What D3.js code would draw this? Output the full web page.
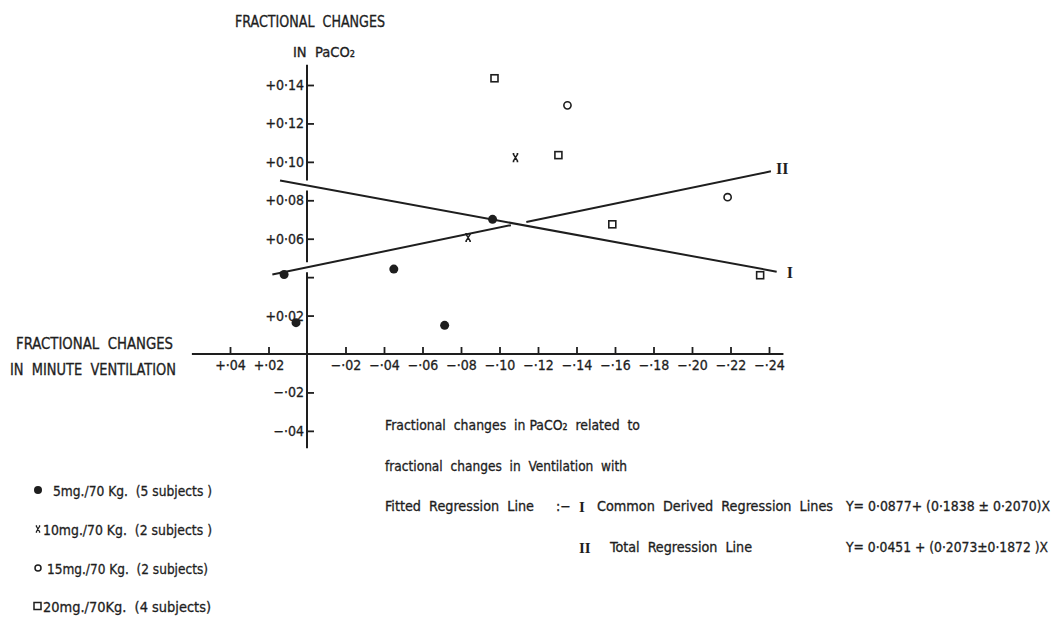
<!DOCTYPE html>
<html>
<head>
<meta charset="utf-8">
<script src="https://cdn.jsdelivr.net/npm/d3@7/dist/d3.min.js"></script>
<style>
  html, body { margin: 0; padding: 0; background: #ffffff; }
  svg { display: block; }
  text { font-family: "DejaVu Sans Condensed", "Liberation Sans Narrow", sans-serif; fill: #1e1e1e; white-space: pre; stroke: #1e1e1e; stroke-width: 0.3px; }
  .roman { font-family: "Liberation Serif", "DejaVu Serif", serif; font-weight: bold; stroke-width: 0; }
</style>
</head>
<body>
<svg id="chart" width="1059" height="617"></svg>
<script>
// Fractional change in minute ventilation (x) against fractional change in PaCO2 (y)
const dose5  = [[0.0119, 0.0414], [0.0057, 0.0163], [-0.0451, 0.0442], [-0.0715, 0.0149], [-0.0964, 0.0701]];
const dose10 = [[-0.1083, 0.1022], [-0.0837, 0.0606]];
const dose15 = [[-0.1353, 0.1294], [-0.2185, 0.0816]];
const dose20 = [[-0.0974, 0.1435], [-0.1306, 0.1035], [-0.1586, 0.0675], [-0.2354, 0.0410]];

// Regression lines: I = common derived, II = total.
// Slope of II is stated against the fall in ventilation, hence its sign here.
const regNames = ["I", "II"];
const regIntercepts = [0.0877, 0.0451];
const regSlopes = [0.1838, -0.2073];
const regSpans = [[0.014, -0.244], [0.018, -0.241]];

const xTicks = [0.04, 0.02, -0.02, -0.04, -0.06, -0.08, -0.10, -0.12, -0.14, -0.16, -0.18, -0.20, -0.22, -0.24];
const xTickLabels = ["+·04", "+·02", "−·02", "−·04", "−·06", "−·08", "−·10", "−·12", "−·14", "−·16", "−·18", "−·20", "−·22", "−·24"];
const yTicks = [0.14, 0.12, 0.10, 0.08, 0.06, 0.04, 0.02, -0.02, -0.04];
const yTickLabels = ["+0·14", "+0·12", "+0·10", "+0·08", "+0·06", "", "+0·02", "−·02", "−·04"];
const xExtent = [0.0598, -0.2475];
const yExtent = [0.1505, -0.049];

const legendLabels = ["5mg./70 Kg.  (5 subjects )", "10mg./70 Kg.  (2 subjects )", "15mg./70 Kg.  (2 subjects)", "20mg./70Kg.  (4 subjects)"];

const ink = "#1e1e1e";
const svg = d3.select("#chart");

const x = d3.scaleLinear().domain([0, -0.24]).range([307, 769]);
const y = d3.scaleLinear().domain([0, 0.14]).range([354, 85]);

// ---- axes ----
const xAxis = d3.axisBottom(x)
  .tickValues(xTicks)
  .tickFormat((d, i) => xTickLabels[i])
  .tickSize(-7)
  .tickPadding(6);
const gx = svg.append("g").attr("transform", `translate(0,${y(0)})`).call(xAxis);
gx.select(".domain").remove();
gx.selectAll(".tick line").attr("stroke", ink).attr("stroke-width", 1.8);
gx.selectAll(".tick text").attr("font-size", 14).attr("fill", ink)
  .style("font-family", "'DejaVu Sans Condensed', 'Liberation Sans Narrow', sans-serif");

const yAxis = d3.axisLeft(y)
  .tickValues(yTicks)
  .tickFormat((d, i) => yTickLabels[i])
  .tickSize(-7)
  .tickPadding(3);
const gy = svg.append("g").attr("transform", `translate(${x(0)},0)`).call(yAxis);
gy.select(".domain").remove();
gy.selectAll(".tick line").attr("stroke", ink).attr("stroke-width", 1.8);
gy.selectAll(".tick text").attr("font-size", 14).attr("fill", ink)
  .style("font-family", "'DejaVu Sans Condensed', 'Liberation Sans Narrow', sans-serif");

// horizontal axis line
svg.append("line")
  .attr("x1", x(xExtent[0])).attr("x2", x(xExtent[1]))
  .attr("y1", y(0)).attr("y2", y(0))
  .attr("stroke", ink).attr("stroke-width", 2);

// vertical axis line, broken where the regression lines cross it
const crossings = regIntercepts.map(v => y(v)).sort((a, b) => a - b);
const ySegs = [];
let segStart = y(yExtent[0]);
crossings.forEach(c => { ySegs.push([segStart, c - 5]); segStart = c + 5; });
ySegs.push([segStart, y(yExtent[1])]);
svg.selectAll("line.yaxis").data(ySegs).join("line")
  .attr("class", "yaxis")
  .attr("x1", x(0)).attr("x2", x(0))
  .attr("y1", d => d[0]).attr("y2", d => d[1])
  .attr("stroke", ink).attr("stroke-width", 2);

// ---- regression lines ----
const regY = (i, v) => regIntercepts[i] + regSlopes[i] * v;
const xCross = (regIntercepts[0] - regIntercepts[1]) / (regSlopes[1] - regSlopes[0]);
const regSegments = [
  [[regSpans[0][0], regSpans[0][1]], 0],
  [[regSpans[1][0], xCross + 0.003], 1],
  [[xCross - 0.005, regSpans[1][1]], 1]
];
svg.selectAll("line.reg").data(regSegments).join("line")
  .attr("class", "reg")
  .attr("x1", d => x(d[0][0])).attr("y1", d => y(regY(d[1], d[0][0])))
  .attr("x2", d => x(d[0][1])).attr("y2", d => y(regY(d[1], d[0][1])))
  .attr("stroke", ink).attr("stroke-width", 2);

// line names at the right-hand ends
svg.append("text").attr("class", "roman")
  .attr("x", x(regSpans[0][1]) + 10).attr("y", y(regY(0, regSpans[0][1])) + 6)
  .attr("font-size", 16).text("I");
svg.append("text").attr("class", "roman")
  .attr("x", x(regSpans[1][1]) + 5).attr("y", y(regY(1, regSpans[1][1])) + 3)
  .attr("font-size", 16).text("II");

// ---- markers ----
const crossPath = s => `M${-s * 0.6},${-s} L${s * 0.6},${s} M${s * 0.6},${-s} L${-s * 0.6},${s}` +
  ` M${-s * 0.75},${-s} H${-s * 0.3} M${s * 0.3},${-s} H${s * 0.75}` +
  ` M${-s * 0.75},${s} H${-s * 0.3} M${s * 0.3},${s} H${s * 0.75}`;

function dots(g, data, r) {
  g.selectAll("circle.d5").data(data).join("circle").attr("class", "d5")
    .attr("cx", d => x(d[0])).attr("cy", d => y(d[1])).attr("r", r).attr("fill", ink);
}
function crosses(g, data, s) {
  g.selectAll("path.d10").data(data).join("path").attr("class", "d10")
    .attr("transform", d => `translate(${x(d[0])},${y(d[1])})`)
    .attr("d", crossPath(s)).attr("fill", "none").attr("stroke", ink).attr("stroke-width", 1.5);
}
function rings(g, data, r) {
  g.selectAll("circle.d15").data(data).join("circle").attr("class", "d15")
    .attr("cx", d => x(d[0])).attr("cy", d => y(d[1])).attr("r", r)
    .attr("fill", "none").attr("stroke", ink).attr("stroke-width", 1.6);
}
function squares(g, data, s) {
  g.selectAll("rect.d20").data(data).join("rect").attr("class", "d20")
    .attr("x", d => x(d[0]) - s / 2).attr("y", d => y(d[1]) - s / 2)
    .attr("width", s).attr("height", s)
    .attr("fill", "none").attr("stroke", ink).attr("stroke-width", 1.6);
}
const marks = svg.append("g");
dots(marks, dose5, 4.5);
crosses(marks, dose10, 3.8);
rings(marks, dose15, 3.6);
squares(marks, dose20, 7);

// ---- axis titles ----
svg.append("text").attr("x", 235).attr("y", 26.5).attr("font-size", 15)
  .attr("textLength", 150).attr("lengthAdjust", "spacingAndGlyphs").text("FRACTIONAL  CHANGES");
svg.append("text").attr("x", 293).attr("y", 57).attr("font-size", 14)
  .attr("textLength", 62).attr("lengthAdjust", "spacingAndGlyphs").text("IN  PaCO₂");

svg.append("text").attr("x", 16).attr("y", 348.5).attr("font-size", 15)
  .attr("textLength", 157).attr("lengthAdjust", "spacingAndGlyphs").text("FRACTIONAL  CHANGES");
svg.append("text").attr("x", 10).attr("y", 375).attr("font-size", 15)
  .attr("textLength", 166).attr("lengthAdjust", "spacingAndGlyphs").text("IN  MINUTE  VENTILATION");

// ---- legend ----
const legendRows = [490, 529, 568, 606];
const legendX = [53, 43, 47, 43];
const legendW = [159, 169, 161, 168];
const lg = svg.append("g");
lg.append("circle").attr("cx", 38).attr("cy", legendRows[0]).attr("r", 4).attr("fill", ink);
lg.append("path").attr("transform", `translate(38,${legendRows[1]})`).attr("d", crossPath(3))
  .attr("fill", "none").attr("stroke", ink).attr("stroke-width", 1.3);
lg.append("circle").attr("cx", 38).attr("cy", legendRows[2]).attr("r", 3)
  .attr("fill", "none").attr("stroke", ink).attr("stroke-width", 1.5);
lg.append("rect").attr("x", 34).attr("y", legendRows[3] - 3.5).attr("width", 7).attr("height", 7)
  .attr("fill", "none").attr("stroke", ink).attr("stroke-width", 1.5);
lg.selectAll("text").data(legendLabels).join("text")
  .attr("x", (d, i) => legendX[i]).attr("y", (d, i) => legendRows[i] + 5.5)
  .attr("font-size", 14.5)
  .attr("textLength", (d, i) => legendW[i]).attr("lengthAdjust", "spacingAndGlyphs")
  .text(d => d);

// ---- caption and equations ----
svg.append("text").attr("x", 385).attr("y", 430).attr("font-size", 14)
  .attr("textLength", 255).attr("lengthAdjust", "spacingAndGlyphs")
  .text("Fractional  changes  in PaCO₂  related  to");
svg.append("text").attr("x", 385).attr("y", 470.5).attr("font-size", 14)
  .attr("textLength", 242).attr("lengthAdjust", "spacingAndGlyphs")
  .text("fractional  changes  in  Ventilation  with");
svg.append("text").attr("x", 385).attr("y", 511).attr("font-size", 14)
  .attr("textLength", 149).attr("lengthAdjust", "spacingAndGlyphs").text("Fitted  Regression  Line");
svg.append("text").attr("x", 556).attr("y", 511).attr("font-size", 14).text(":−");
svg.append("text").attr("class", "roman").attr("x", 579).attr("y", 511.5).attr("font-size", 15).text(regNames[0]);
svg.append("text").attr("x", 597).attr("y", 511).attr("font-size", 14)
  .attr("textLength", 236).attr("lengthAdjust", "spacingAndGlyphs").text("Common  Derived  Regression  Lines");
svg.append("text").attr("x", 846).attr("y", 511).attr("font-size", 13.5)
  .attr("textLength", 204).attr("lengthAdjust", "spacingAndGlyphs")
  .text(`Y= 0·${String(regIntercepts[0]).slice(2)}+ (0·1838 ± 0·2070)X`);

svg.append("text").attr("class", "roman").attr("x", 579).attr("y", 552.5).attr("font-size", 15).text(regNames[1]);
svg.append("text").attr("x", 610).attr("y", 552).attr("font-size", 14)
  .attr("textLength", 142).attr("lengthAdjust", "spacingAndGlyphs").text("Total  Regression  Line");
svg.append("text").attr("x", 846).attr("y", 552).attr("font-size", 13.5)
  .attr("textLength", 202).attr("lengthAdjust", "spacingAndGlyphs")
  .text(`Y= 0·${String(regIntercepts[1]).slice(2)} + (0·2073±0·1872 )X`);
</script>
</body>
</html>
